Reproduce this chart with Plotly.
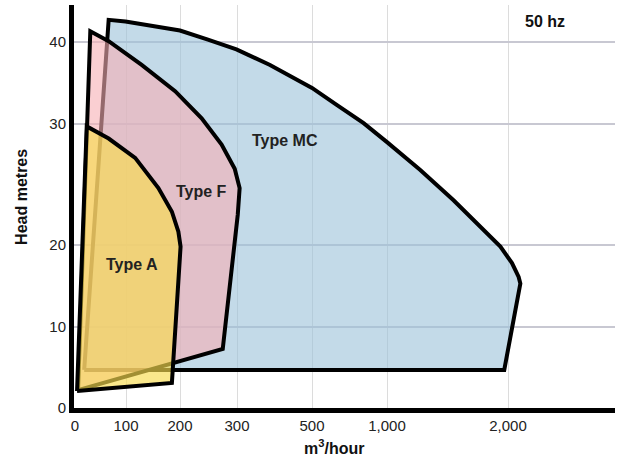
import numpy as np
import plotly.graph_objects as go

# hand-drawn axes: tick values and their relative spacing on the chart
x_ticks = [0, 100, 200, 300, 500, 1000, 2000]
x_tick_text = ["0", "100", "200", "300", "500", "1,000", "2,000"]
x_scale_vals = [0, 100, 200, 300, 500, 1000, 2000, 3000]
x_scale_pos = [0, 51, 105, 162, 237, 312, 433, 554]

y_ticks = [0, 10, 20, 30, 40]
y_scale_vals = [0, 10, 20, 30, 40, 50]
y_scale_pos = [0, 81, 163, 284, 366, 448]

# operating envelopes (m3/hour, head metres)
mc_flow = [18, 66, 99, 160, 200, 249, 299, 388, 500, 667, 844, 1000, 1275, 1550,
           1771, 1937, 2033, 2088, 2102, 1969, 18]
mc_head = [4.7, 42.7, 42.5, 41.9, 41.4, 40.3, 39.1, 37.2, 34.4, 32.3, 30.1, 28.5, 26.2, 23.7,
           21.5, 19.8, 17.8, 16.1, 15.3, 4.7, 4.7]

f_flow = [6, 30, 66, 129, 191, 238, 273, 296, 307, 302, 275, 6]
f_head = [2.2, 41.3, 40.1, 37.2, 34.0, 30.7, 28.3, 26.3, 24.7, 22.5, 7.3, 2.2]

a_flow = [4, 23, 66, 117, 160, 185, 197, 201, 185, 4]
a_head = [2.1, 29.8, 28.8, 27.2, 24.7, 22.75, 21.1, 19.8, 3.1, 2.1]

labels = ["Type MC", "Type F", "Type A"]
label_flow = [428, 237, 112]
label_head = [28.6, 24.4, 17.6]


def sx(v):
    return np.interp(v, x_scale_vals, x_scale_pos)


def sy(v):
    return np.interp(v, y_scale_vals, y_scale_pos)


FONT = "Arial, Liberation Sans, Helvetica, sans-serif"

fig = go.Figure()

envelopes = [
    (mc_flow, mc_head, "rgba(155,193,217,0.6)"),
    (f_flow, f_head, "rgba(247,175,180,0.6)"),
    (a_flow, a_head, "rgba(248,220,78,0.65)"),
]
for flow, head, color in envelopes:
    fig.add_trace(go.Scatter(
        x=sx(flow), y=sy(head),
        mode="lines", fill="toself", fillcolor=color,
        line=dict(color="black", width=4),
        hoverinfo="skip", showlegend=False
    ))

for name, fx, fy in zip(labels, label_flow, label_head):
    fig.add_annotation(
        x=sx(fx), y=sy(fy), text="<b>%s</b>" % name, showarrow=False,
        font=dict(family=FONT, size=16, color="#222")
    )

# corner note and axis titles
fig.add_annotation(
    x=0.871, y=0.958, xref="paper", yref="paper", text="<b>50 hz</b>",
    xanchor="center", yanchor="middle",
    showarrow=False, font=dict(family=FONT, size=16, color="#111")
)
fig.add_annotation(
    x=0.481, y=-0.096, xref="paper", yref="paper", text="<b>m<sup>3</sup>/hour</b>",
    xanchor="center", yanchor="middle",
    showarrow=False, font=dict(family=FONT, size=16, color="#111")
)
fig.add_annotation(
    x=-0.096, y=0.524, xref="paper", yref="paper", text="<b>Head metres</b>",
    xanchor="center", yanchor="middle", textangle=-90,
    showarrow=False, font=dict(family=FONT, size=16, color="#111")
)

fig.update_xaxes(
    range=[-1, 540], tickvals=sx(x_ticks), ticktext=x_tick_text,
    showgrid=True, gridcolor="#dcdcdc", gridwidth=1, zeroline=False,
    showline=True, linecolor="black", linewidth=5, automargin=False,
    tickfont=dict(family=FONT, size=15, color="#222")
)
fig.update_yaxes(
    range=[0, 403], tickvals=sy(y_ticks), ticktext=[str(t) for t in y_ticks],
    showgrid=True, gridcolor="#c8c8d2", gridwidth=1.5, zeroline=False,
    showline=True, linecolor="black", linewidth=5, automargin=False,
    tickfont=dict(family=FONT, size=15, color="#222")
)
fig.update_layout(
    width=617, height=461,
    margin=dict(l=74, r=2, t=5, b=53, autoexpand=False),
    plot_bgcolor="white", paper_bgcolor="white",
)

fig.write_html("out.html", config={"displayModeBar": False},
               post_script="document.body.style.margin='0';")
